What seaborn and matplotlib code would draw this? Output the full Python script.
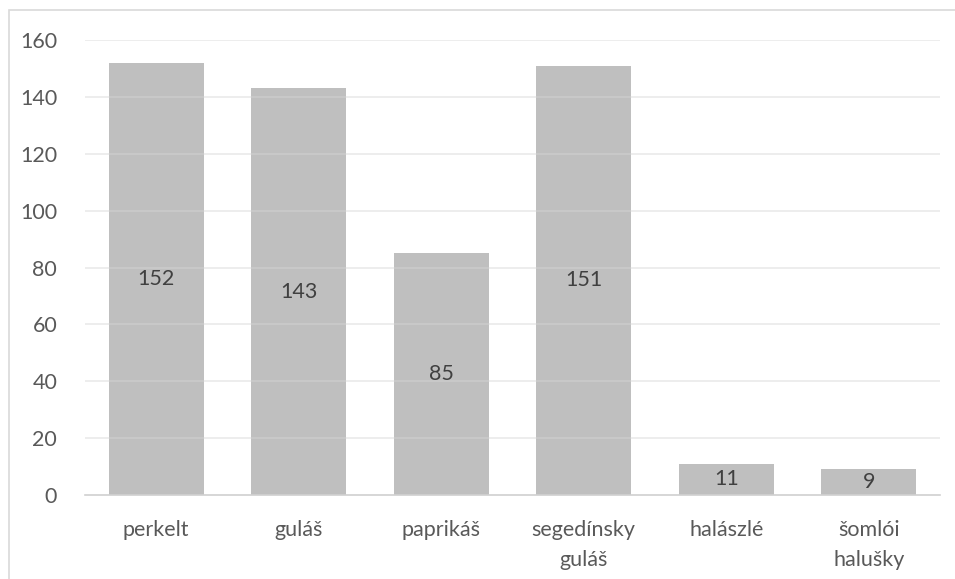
import matplotlib
matplotlib.use("Agg")
import matplotlib.pyplot as plt
import seaborn as sns
import pandas as pd
from matplotlib.patches import Rectangle

categories = ["perkelt", "guláš", "paprikáš", "segedínsky\nguláš", "halászlé", "šomlói\nhalušky"]
values = [152, 143, 85, 151, 11, 9]
y_ticks = [0, 20, 40, 60, 80, 100, 120, 140, 160]

sns.set_theme(style="white")
plt.rcParams["font.family"] = ["Lato", "DejaVu Sans"]

text_color = "#595959"
bar_color = "#BFBFBF"
fs = 15.5

df = pd.DataFrame({"jedlo": categories, "pocet": values})

fig = plt.figure(figsize=(9.55, 5.79), dpi=100)
ax = fig.add_axes([85 / 955, 1 - 495 / 579, 855 / 955, 455 / 579])

sns.barplot(data=df, x="jedlo", y="pocet", color=bar_color, saturation=1,
            width=0.667, linewidth=0, ax=ax, zorder=2)

ax.set_ylim(0, 160)
ax.set_xlim(-0.5, len(categories) - 0.5)
ax.set_yticks(y_ticks)
# light gridlines drawn over the bars, faintly visible through them
for t in y_ticks[1:]:
    ax.axhline(t, color="#D6D6D6", alpha=0.5, linewidth=1.2, zorder=3)
ax.set_xlabel("")
ax.set_ylabel("")

for side in ["top", "right", "left"]:
    ax.spines[side].set_visible(False)
ax.spines["bottom"].set_color("#D0D0D0")
ax.spines["bottom"].set_linewidth(1.2)
ax.spines["bottom"].set_zorder(4)

ax.tick_params(axis="y", length=0, pad=20, labelsize=fs, labelcolor=text_color)
ax.tick_params(axis="x", length=0, pad=18, labelsize=fs, labelcolor=text_color)
for lbl in ax.get_xticklabels():
    lbl.set_multialignment("center")
    lbl.set_linespacing(1.6)

# value labels centred inside each bar
for container in ax.containers:
    ax.bar_label(container, labels=[str(v) for v in values], label_type="center",
                 fontsize=fs, color="#404040", zorder=5)

# chart area frame
frame = Rectangle((8.5 / 955, -0.1), 1.2, 1 - 10 / 579 + 0.1, transform=fig.transFigure,
                  fill=False, edgecolor="#D9D9D9", linewidth=1.2, clip_on=False)
fig.patches.append(frame)

fig.savefig("out.png", dpi=100, facecolor="white")
